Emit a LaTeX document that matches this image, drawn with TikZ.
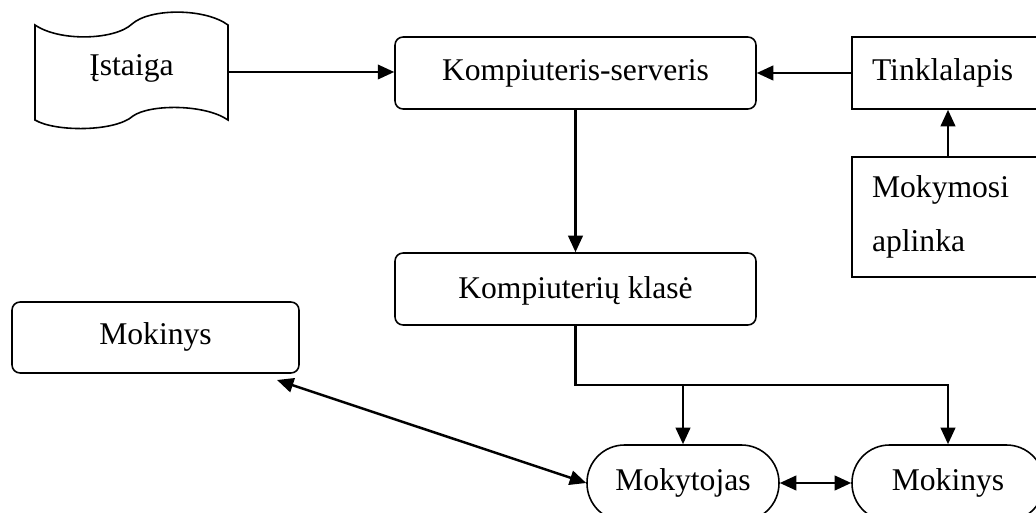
\documentclass[tikz,border=0pt]{standalone}
\usepackage{fontspec}
\setmainfont{Liberation Serif}
\usetikzlibrary{arrows.meta}

\begin{document}
\begin{tikzpicture}[x=0.02cm,y=-0.02cm,
  every node/.style={font=\fontsize{18}{31}\selectfont, inner sep=0pt},
  box/.style={draw, line width=0.9pt, minimum width=3.84cm, minimum height=1.44cm, text height=12.5pt, text depth=4pt},
  roundbox/.style={box, rounded corners=0.16cm},
  pill/.style={box, minimum height=1.52cm, rounded corners=0.75cm},
  link/.style={line width=1.4pt, -{Triangle[length=0.33cm,width=0.29cm]}},
  twoway/.style={line width=1.4pt, {Triangle[length=0.33cm,width=0.29cm]}-{Triangle[length=0.33cm,width=0.29cm]}}]
\useasboundingbox (0,0) rectangle (1036,513);
\clip (0,0) rectangle (1036,513);

\node[minimum width=3.86cm, minimum height=1.9cm, text height=12.5pt, text depth=9pt] (1) at (131.5,72) {Įstaiga};
\node[roundbox, minimum width=7.22cm] (2) at (575.5,73) {Kompiuteris-serveris};
\node[box, align=left, text width=3.04cm, inner xsep=0.4cm] (3) at (948,73) {Tinklalapis};
\node[box, align=left, text width=3.04cm, inner xsep=0.4cm, minimum height=2.4cm, text height=, text depth=] (4) at (948,217) {Mokymosi\\aplinka};
\node[roundbox, minimum width=7.22cm, text depth=2pt] (5) at (575.5,289) {Kompiuterių klasė};
\node[roundbox, minimum width=5.74cm, minimum height=1.42cm] (6) at (155.5,337.5) {Mokinys};
\node[pill] (7) at (683,483) {Mokytojas};
\node[pill] (8) at (948,483) {Mokinys};
\coordinate (9) at (575.5,385);
\coordinate (10) at (277,380);

% banga
\draw[line width=0.9pt] (35,25) .. controls (60,42) and (115,40) .. (132,24)
  .. controls (150,8) and (205,8) .. (228,25) -- (228,120)
  .. controls (205,104) and (150,104) .. (133,116)
  .. controls (115,132) and (55,132) .. (35,120) -- cycle;

\draw[link] (1.east) -- (1.east -| 2.west);
\draw[link] (3) -- (2);
\draw[link] (4) -- (3);
\draw[link] (2) -- (5);
\draw[link] (5) -- (9) -| (8);
\draw[link] (9 -| 7) -- (7);
\draw[twoway] (10) -- (7.west);
\draw[twoway] (7) -- (8);

\end{tikzpicture}
\end{document}
